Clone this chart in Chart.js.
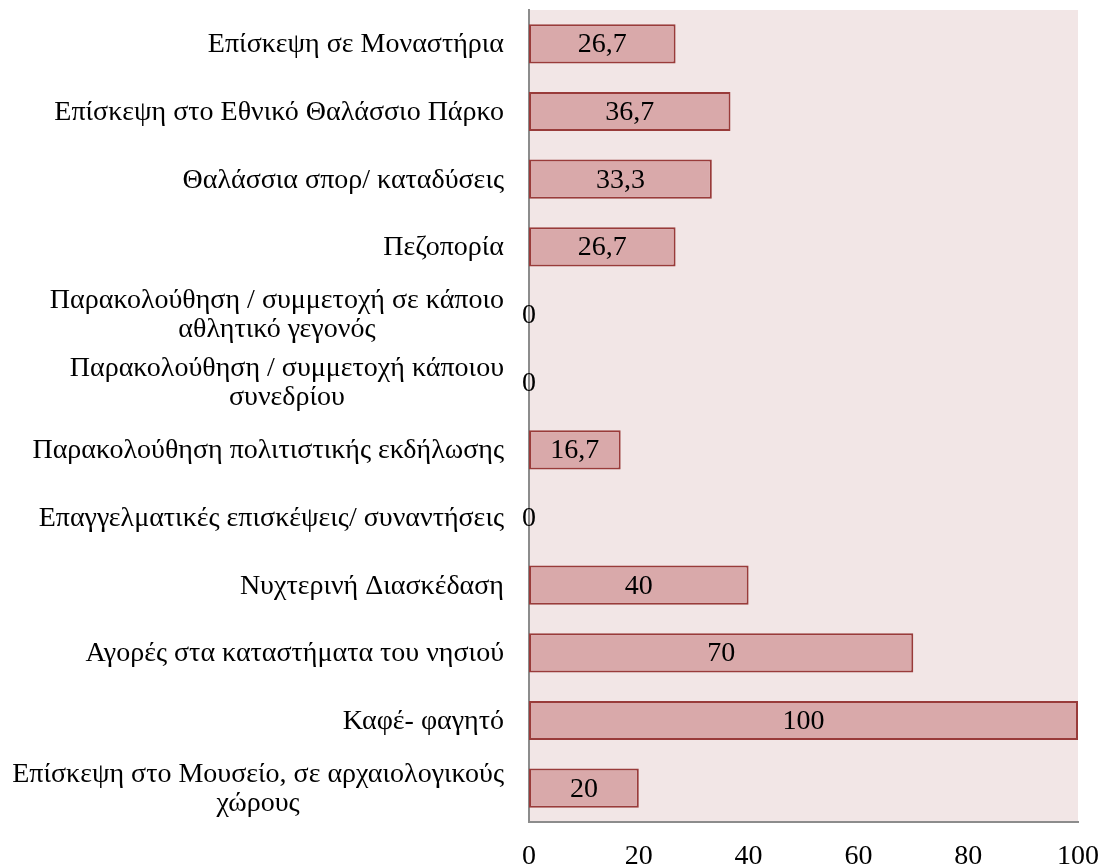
<!DOCTYPE html>
<html>
<head>
<meta charset="utf-8">
<script src="https://cdn.jsdelivr.net/npm/chart.js@4/dist/chart.umd.min.js"></script>
<style>
  html, body { margin: 0; padding: 0; background: #ffffff; }
  #wrap { width: 1106px; height: 867px; }
</style>
</head>
<body>
<div id="wrap"><canvas id="myChart" width="1106" height="867"></canvas></div>
<script>
// activity categories, top to bottom (multi-line ones as arrays)
const activities = [
    'Επίσκεψη σε Μοναστήρια',
    'Επίσκεψη στο Εθνικό Θαλάσσιο Πάρκο',
    'Θαλάσσια σπορ/ καταδύσεις',
    'Πεζοπορία',
    ['Παρακολούθηση / συμμετοχή σε κάποιο', 'αθλητικό γεγονός'],
    ['Παρακολούθηση / συμμετοχή κάποιου', 'συνεδρίου'],
    'Παρακολούθηση πολιτιστικής εκδήλωσης',
    'Επαγγελματικές επισκέψεις/ συναντήσεις',
    'Νυχτερινή Διασκέδαση',
    'Αγορές στα καταστήματα του νησιού',
    'Καφέ- φαγητό',
    ['Επίσκεψη στο Μουσείο, σε αρχαιολογικούς', 'χώρους']
];
const percents = [26.7, 36.7, 33.3, 26.7, 0, 0, 16.7, 0, 40, 70, 100, 20];
const xTicks = [0, 20, 40, 60, 80, 100];

const FONT = '"Liberation Serif", "Times New Roman", serif';

// pink plot background
const plotBg = {
    id: 'plotBg',
    beforeDraw(chart) {
        const a = chart.chartArea;
        const ctx = chart.ctx;
        ctx.save();
        ctx.fillStyle = '#f2e6e6';
        ctx.fillRect(a.left, a.top, a.right - a.left, a.bottom - a.top);
        ctx.restore();
    }
};

// category labels: block right-aligned, lines centred inside the block
const catLabels = {
    id: 'catLabels',
    afterDraw(chart) {
        const ctx = chart.ctx;
        const yScale = chart.scales.y;
        const rightEdge = chart.chartArea.left - 25;
        ctx.save();
        ctx.font = '28px ' + FONT;
        ctx.fillStyle = '#000000';
        ctx.textBaseline = 'middle';
        ctx.textAlign = 'center';
        activities.forEach((lab, i) => {
            const lines = Array.isArray(lab) ? lab : [lab];
            const widest = Math.max(...lines.map(l => ctx.measureText(l).width));
            const cx = rightEdge - widest / 2;
            const yc = yScale.getPixelForValue(i);
            const lh = 29;
            lines.forEach((l, j) => {
                ctx.fillText(l, cx, yc + 1 + (j - (lines.length - 1) / 2) * lh);
            });
        });
        ctx.restore();
    }
};

// value labels centred in each bar
const valueLabels = {
    id: 'valueLabels',
    afterDatasetsDraw(chart) {
        const ctx = chart.ctx;
        const meta = chart.getDatasetMeta(0);
        ctx.save();
        ctx.font = '28px ' + FONT;
        ctx.fillStyle = '#000000';
        ctx.textAlign = 'center';
        ctx.textBaseline = 'middle';
        meta.data.forEach((bar, i) => {
            const p = bar.getProps(['x', 'y', 'base'], true);
            const txt = String(percents[i]).replace('.', ',');
            ctx.fillText(txt, (p.x + p.base) / 2, p.y + 1);
        });
        ctx.restore();
    }
};

const ctx = document.getElementById('myChart');
const myChart = new Chart(ctx, {
    type: 'bar',
    data: {
        labels: activities,
        datasets: [{
            data: percents,
            backgroundColor: '#d9a9aa',
            borderColor: '#993b3a',
            borderWidth: 2,
            borderSkipped: false,
            barPercentage: 0.58,
            categoryPercentage: 1
        }]
    },
    options: {
        indexAxis: 'y',
        responsive: false,
        animation: false,
        layout: { padding: { top: 10, right: 28, left: 0, bottom: 0 } },
        plugins: {
            legend: { display: false },
            tooltip: { enabled: false }
        },
        scales: {
            x: {
                min: 0,
                max: 100,
                afterBuildTicks: axis => { axis.ticks = xTicks.map(v => ({ value: v })); },
                afterFit: axis => {
                    axis.height = 45;
                    axis.paddingLeft = 0;
                    axis.paddingRight = 0;
                },
                grid: { display: false },
                border: { display: true, color: '#8c8c8c', width: 2 },
                ticks: {
                    padding: 10,
                    color: '#000000',
                    maxRotation: 0,
                    font: { family: FONT, size: 28 }
                }
            },
            y: {
                afterFit: axis => { axis.width = 529; },
                grid: { display: false },
                border: { display: true, color: '#8c8c8c', width: 2 },
                ticks: { display: false }
            }
        }
    },
    plugins: [plotBg, catLabels, valueLabels]
});
</script>
</body>
</html>
